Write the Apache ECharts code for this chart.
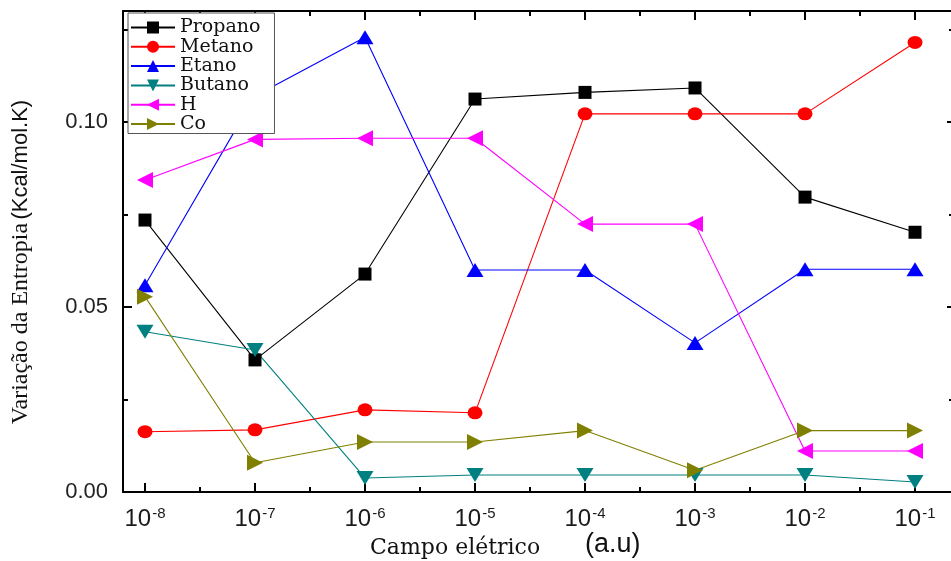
<!DOCTYPE html>
<html>
<head>
<meta charset="utf-8">
<title>Variação da Entropia</title>
<script src="https://cdn.jsdelivr.net/npm/echarts@6/dist/echarts.min.js"></script>
<style>
  html, body { margin: 0; padding: 0; background: #ffffff; overflow: hidden; }
  #chart { width: 951px; height: 561px; }
</style>
</head>
<body>
<div id="chart"></div>
<script>
// Field exponents (10^n, a.u.)
const exponents = [-8, -7, -6, -5, -4, -3, -2, -1];
const minorExponents = [-7.5, -6.5, -5.5, -4.5, -3.5, -2.5, -1.5, -0.5];

// Entropy change (Kcal/mol.K) for each molecule
const propano = [0.0735, 0.0357, 0.0589, 0.1062, 0.1080, 0.1092, 0.0797, 0.0702];
const metano  = [0.0163, 0.0168, 0.0222, 0.0214, 0.1022, 0.1022, 0.1022, 0.1215];
const etano   = [0.0559, 0.1070, 0.1229, 0.0600, 0.0600, 0.0403, 0.0602, 0.0602];
const butano  = [0.0433, 0.0384, 0.0038, 0.0046, 0.0046, 0.0046, 0.0046, 0.0027];
const hidro   = [0.0843, 0.0953, 0.0956, 0.0956, 0.0724, 0.0724, 0.0111, 0.0111];
const co      = [0.0528, 0.0079, 0.0135, 0.0135, 0.0166, 0.0059, 0.0166, 0.0166];

const yMajor = [0, 0.05, 0.10];
const yMinor = [0.025, 0.075, 0.125];

// the frame's right edge sits just past the canvas border
const X_MIN = -8.2, X_MAX = -0.582;
const Y_MIN = 0, Y_MAX = 0.13;

const chart = echarts.init(document.getElementById('chart'), null, { renderer: 'canvas' });

function pairs(values) {
  return exponents.map((e, i) => [e, values[i]]);
}

function xAxisDef(position, ticks, len, showLine, showLabel) {
  return {
    type: 'value', position: position, min: X_MIN, max: X_MAX,
    splitLine: { show: false },
    axisLine: { show: showLine, onZero: false, lineStyle: { color: '#000', width: 2 } },
    axisTick: { show: true, inside: true, length: len, customValues: ticks,
                lineStyle: { color: '#000', width: 2 } },
    axisLabel: showLabel ? {
      show: true, customValues: ticks, margin: 14, color: '#1a1a1a',
      formatter: v => '{b|10}{s|' + v + '}',
      rich: {
        b: { fontFamily: 'Liberation Sans, Arial', fontSize: 24, color: '#1a1a1a' },
        s: { fontFamily: 'Liberation Sans, Arial', fontSize: 15, color: '#1a1a1a',
             verticalAlign: 'top', padding: [0, 0, 12, 1] }
      }
    } : { show: false }
  };
}

function yAxisDef(position, ticks, len, showLine, showLabel) {
  return {
    type: 'value', position: position, min: Y_MIN, max: Y_MAX,
    splitLine: { show: false },
    axisLine: { show: showLine, onZero: false, lineStyle: { color: '#000', width: 2 } },
    axisTick: { show: true, inside: true, length: len, customValues: ticks,
                lineStyle: { color: '#000', width: 2 } },
    axisLabel: showLabel ? {
      show: true, customValues: ticks, margin: 15, color: '#222',
      fontFamily: 'Liberation Sans, Arial', fontSize: 22,
      formatter: v => v.toFixed(2)
    } : { show: false }
  };
}

function lineSeries(name, values, color, symbol, size, rotate) {
  return {
    name: name, type: 'line', data: pairs(values),
    xAxisIndex: 0, yAxisIndex: 0,
    symbol: symbol, symbolSize: size, symbolRotate: rotate || 0,
    showSymbol: true, showAllSymbol: true,
    lineStyle: { color: color, width: 1.1 },
    itemStyle: { color: color, borderWidth: 0 },
    emphasis: { disabled: true },
    animation: false
  };
}

const option = {
  backgroundColor: '#ffffff',
  animation: false,
  grid: { left: 123, top: 11, width: 838, height: 481, containLabel: false, outerBoundsMode: 'none' },
  xAxis: [
    xAxisDef('bottom', exponents, 9, true, true),
    xAxisDef('bottom', minorExponents, 5, false, false),
    xAxisDef('top', exponents, 9, true, false),
    xAxisDef('top', minorExponents, 5, false, false)
  ],
  yAxis: [
    yAxisDef('left', yMajor, 9, true, true),
    yAxisDef('left', yMinor, 5, false, false),
    yAxisDef('right', yMajor, 14, true, false),
    yAxisDef('right', yMinor, 12, false, false)
  ],
  legend: {
    orient: 'vertical', left: 128, top: 13,
    padding: [5, 14, 0, 2],
    itemWidth: 44, itemHeight: 15, itemGap: 0.3,
    backgroundColor: '#ffffff', borderColor: '#555', borderWidth: 1,
    symbolRotate: 'inherit',
    textStyle: { fontFamily: 'DejaVu Serif', fontSize: 19, color: '#111', lineHeight: 19 },
    data: ['Propano', 'Metano', 'Etano', 'Butano', 'H', 'Co']
  },
  graphic: [
    {
      type: 'text', x: 21, y: 262, rotation: Math.PI / 2,
      style: {
        text: '{a|Variação da Entropia} {b|(Kcal/mol.K)}',
        align: 'center', verticalAlign: 'middle',
        rich: {
          a: { fontFamily: 'Liberation Serif', fontSize: 24, fill: '#111' },
          b: { fontFamily: 'Liberation Sans, Arial', fontSize: 22, fill: '#111' }
        }
      }
    },
    {
      type: 'text', left: 370, top: 537,
      style: { text: 'Campo elétrico', font: '22px "DejaVu Serif"', fill: '#111' }
    },
    {
      type: 'text', left: 585, top: 531,
      style: { text: '(a.u)', font: '27px "Liberation Sans", Arial', fill: '#111' }
    }
  ],
  series: [
    lineSeries('Propano', propano, '#000000', 'rect', 13),
    lineSeries('Metano', metano, '#ff0000', 'circle', [15, 13]),
    lineSeries('Etano', etano, '#0000ff', 'triangle', [17, 14]),
    lineSeries('Butano', butano, '#008080', 'triangle', [17, 14], 180),
    lineSeries('H', hidro, '#ff00ff', 'triangle', [16, 16], 90),
    lineSeries('Co', co, '#808000', 'triangle', [16, 16], -90)
  ]
};

chart.setOption(option);
</script>
</body>
</html>
